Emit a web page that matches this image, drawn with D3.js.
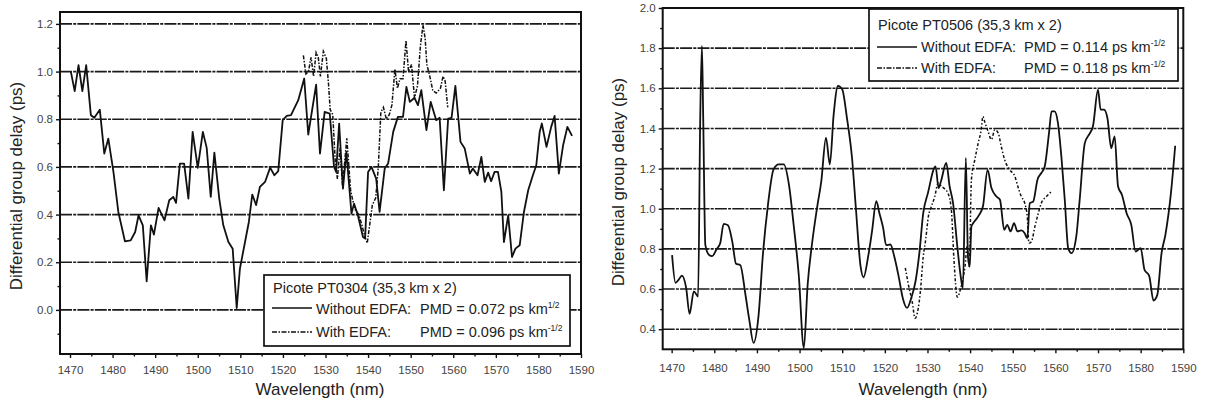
<!DOCTYPE html>
<html><head><meta charset="utf-8">
<script src="https://cdn.jsdelivr.net/npm/d3@7"></script>
<style>
body{margin:0;background:#fff}
svg{display:block}
text{font-family:"Liberation Sans",Arial,Helvetica,sans-serif}
</style>
</head><body>
<svg id="chart" width="1206" height="403"></svg>
<script>
// ---------- tick labels ----------
const xTickValues = [1470,1480,1490,1500,1510,1520,1530,1540,1550,1560,1570,1580,1590];
const xMinorTicks = [1475,1485,1495,1505,1515,1525,1535,1545,1555,1565,1575,1585];
const leftYTicks = [0.0,0.2,0.4,0.6,0.8,1.0,1.2];
const leftYMinor = [-0.1,0.1,0.3,0.5,0.7,0.9,1.1];
const rightYTicks = [0.4,0.6,0.8,1.0,1.2,1.4,1.6,1.8,2.0];
const rightYMinor = [0.5,0.7,0.9,1.1,1.3,1.5,1.7,1.9];

// ---------- left panel: Picote PT0304 ----------
const leftWithout = [
[1470.2,1.0],[1471.1,0.918],[1472.0,1.027],[1472.9,0.918],[1473.8,1.027],[1474.9,0.817],[1475.7,0.806],
[1477.0,0.84],[1478.05,0.656],[1479.0,0.719],[1480.2,0.579],[1481.35,0.411],[1482.9,0.288],[1484.25,0.292],
[1485.3,0.327],[1486.1,0.397],[1487.1,0.355],[1488.0,0.12],[1489.0,0.355],[1489.7,0.316],[1490.8,0.428],
[1492.2,0.376],[1493.3,0.46],[1494.25,0.474],[1494.9,0.449],[1495.8,0.614],[1496.8,0.614],[1497.8,0.467],
[1498.8,0.747],[1500.0,0.596],[1501.2,0.747],[1502.1,0.68],[1503.05,0.474],[1503.9,0.66],[1505.05,0.467],
[1506.0,0.355],[1507.2,0.285],[1508.2,0.257],[1509.15,0.008],[1509.9,0.173],[1511.1,0.285],[1512.0,0.369],
[1512.8,0.484],[1513.7,0.44],[1514.6,0.516],[1515.8,0.537],[1517.0,0.597],[1518.0,0.565],[1518.9,0.582],
[1519.95,0.796],[1520.9,0.814],[1521.9,0.817],[1523.6,0.88],[1525.0,0.971],[1525.95,0.736],[1527.8,0.945],
[1528.7,0.656],[1529.8,0.831],[1531.0,0.824],[1532.0,0.60],[1532.5,0.579],[1533.2,0.782],[1534.1,0.509],
[1534.9,0.663],[1536.1,0.404],[1536.7,0.446],[1537.6,0.397],[1538.8,0.306],[1539.3,0.30],[1540.0,0.579],
[1540.8,0.60],[1541.9,0.551],[1542.7,0.411],[1543.9,0.593],[1544.7,0.614],[1545.9,0.747],[1547.0,0.81],
[1548.2,0.81],[1549.0,0.936],[1549.8,0.873],[1550.9,0.89],[1551.7,0.859],[1552.5,0.922],[1553.7,0.754],
[1554.7,0.873],[1556.0,0.796],[1556.8,0.806],[1557.8,0.502],[1558.8,0.803],[1559.6,0.806],[1560.5,0.94],
[1561.7,0.705],[1562.7,0.677],[1563.9,0.572],[1564.6,0.593],[1565.7,0.565],[1566.6,0.642],[1567.4,0.537],
[1568.2,0.576],[1568.9,0.54],[1569.7,0.579],[1570.5,0.579],[1571.3,0.495],[1571.9,0.285],[1572.9,0.397],
[1573.8,0.222],[1574.6,0.257],[1575.6,0.271],[1576.6,0.411],[1577.6,0.502],[1578.7,0.565],[1579.5,0.607],
[1580.3,0.747],[1580.8,0.782],[1581.9,0.684],[1583.0,0.768],[1583.8,0.814],[1584.8,0.572],[1585.8,0.691],
[1586.8,0.768],[1587.9,0.73]
];
const leftWith = [
[1524.8,1.068],[1525.4,0.99],[1526.0,1.0],[1526.6,1.06],[1527.2,0.98],[1527.8,1.08],[1528.3,1.06],
[1528.8,0.98],[1529.5,1.085],[1530.2,1.055],[1530.7,0.95],[1531.1,0.84],[1531.7,0.82],[1532.3,0.62],
[1532.8,0.55],[1533.4,0.68],[1534.0,0.52],[1534.6,0.64],[1535.0,0.72],[1535.5,0.60],[1535.9,0.50],
[1536.4,0.46],[1537.0,0.42],[1537.8,0.40],[1538.5,0.36],[1539.2,0.31],[1539.8,0.28],[1540.4,0.36],
[1541.0,0.44],[1541.8,0.47],[1542.4,0.60],[1543.0,0.83],[1543.6,0.85],[1544.3,0.80],[1545.0,0.82],
[1545.6,0.86],[1546.3,1.01],[1546.9,0.93],[1547.5,0.97],[1548.2,0.97],[1548.9,1.13],[1549.5,1.0],
[1550.2,1.03],[1550.9,0.89],[1551.6,0.94],[1552.3,1.11],[1552.9,1.195],[1553.4,1.14],[1553.8,1.03],
[1554.5,0.98],[1555.2,0.92],[1556.0,0.91],[1557.0,0.93],[1557.6,0.98],[1558.1,0.96],[1558.7,0.85]
];

// ---------- right panel: Picote PT0506 ----------
const rightWithout = [
[1470.1,0.769],[1470.9,0.631],[1471.65,0.647],[1472.4,0.667],[1473.4,0.606],[1474.2,0.476],[1475.2,0.589],
[1476.2,0.563],[1476.7,1.45],[1477.1,1.811],[1477.4,1.454],[1477.9,0.82],[1478.7,0.772],[1479.5,0.764],
[1480.5,0.797],[1481.4,0.83],[1482.2,0.925],[1483.2,0.918],[1484.2,0.839],[1485.1,0.726],[1486.1,0.719],
[1487.3,0.573],[1488.2,0.448],[1489.2,0.332],[1490.4,0.473],[1491.4,0.772],[1492.6,1.022],[1493.9,1.196],
[1495.1,1.221],[1496.3,1.221],[1497.5,1.121],[1498.6,0.922],[1499.8,0.673],[1501.0,0.307],[1501.9,0.623],
[1502.9,0.822],[1504.1,1.005],[1505.1,1.138],[1506.2,1.354],[1507.1,1.221],[1508.0,1.47],[1509.0,1.612],
[1510.0,1.595],[1511.1,1.454],[1512.3,1.254],[1513.2,1.005],[1514.3,0.714],[1515.0,0.659],[1516.1,0.764],
[1517.0,0.889],[1518.0,1.038],[1518.7,0.98],[1519.6,0.905],[1520.3,0.819],[1521.3,0.822],[1522.2,0.764],
[1523.3,0.656],[1524.2,0.556],[1525.2,0.506],[1526.2,0.556],[1527.2,0.639],[1528.1,0.78],[1529.0,0.978],
[1530.1,1.078],[1531.9,1.211],[1532.6,1.103],[1533.2,1.14],[1534.4,1.228],[1535.2,1.111],[1536.0,1.028],
[1537.0,0.812],[1537.8,0.662],[1538.3,0.604],[1539.0,1.253],[1539.5,0.762],[1539.9,0.712],[1540.3,0.912],
[1540.7,0.928],[1541.9,0.962],[1543.0,1.011],[1544.1,1.194],[1545.0,1.103],[1546.2,1.061],[1547.0,1.045],
[1548.0,0.895],[1548.7,0.92],[1549.5,0.887],[1550.3,0.928],[1551.1,0.887],[1552.0,0.892],[1552.8,0.878],
[1553.4,0.853],[1554.0,1.028],[1554.8,1.036],[1555.8,1.145],[1556.7,1.178],[1557.5,1.211],[1558.5,1.377],
[1559.1,1.485],[1559.8,1.485],[1560.6,1.427],[1561.4,1.261],[1562.2,1.045],[1563.0,0.804],[1563.8,0.779],
[1564.9,0.862],[1565.7,1.045],[1566.9,1.327],[1568.1,1.377],[1568.8,1.41],[1570.0,1.593],[1570.6,1.494],
[1571.4,1.494],[1572.2,1.452],[1573.1,1.302],[1573.9,1.361],[1574.7,1.111],[1575.6,1.07],[1576.7,0.978],
[1577.8,0.92],[1578.8,0.787],[1580.0,0.804],[1580.9,0.696],[1582.0,0.666],[1583.0,0.543],[1583.9,0.571],
[1584.9,0.779],[1585.8,0.87],[1587.1,1.078],[1588.1,1.314]
];
const rightWith = [
[1524.8,0.706],[1525.6,0.614],[1526.4,0.539],[1527.1,0.455],[1527.8,0.50],[1528.3,0.58],[1529.0,0.76],
[1529.6,0.85],[1530.2,0.96],[1530.9,1.01],[1531.7,1.06],[1532.5,1.128],[1533.3,1.111],[1534.0,1.10],
[1534.8,1.078],[1535.6,0.995],[1536.2,0.75],[1537.0,0.56],[1537.7,0.596],[1538.3,0.65],[1538.8,0.712],
[1539.3,0.812],[1539.8,0.712],[1540.3,1.145],[1541.1,1.244],[1541.9,1.327],[1542.6,1.394],[1543.0,1.46],
[1543.4,1.435],[1544.2,1.386],[1545.0,1.344],[1545.8,1.394],[1546.6,1.377],[1547.3,1.311],[1548.1,1.244],
[1549.3,1.194],[1550.5,1.161],[1551.2,1.111],[1552.0,1.061],[1552.8,1.028],[1553.4,0.962],[1553.8,0.829],
[1554.4,0.837],[1555.2,0.912],[1555.9,0.97],[1556.7,1.028],[1557.9,1.061],[1559.1,1.086]
];

const leftLegend = {title:"Picote PT0304 (35,3 km x 2)", a:"Without EDFA:", aPmd:"PMD = 0.072 ps km", aExp:"1/2", b:"With EDFA:", bPmd:"PMD = 0.096 ps km", bExp:"-1/2"};
const rightLegend = {title:"Picote PT0506 (35,3 km x 2)", a:"Without EDFA:", aPmd:"PMD = 0.114 ps km", aExp:"-1/2", b:"With EDFA:", bPmd:"PMD = 0.118 ps km", bExp:"-1/2"};

const svg = d3.select("#chart");

function panel(o){
  const x = d3.scaleLinear().domain(o.xDomain).range([o.L, o.R]);
  const y = d3.scaleLinear().domain(o.yDomain).range([o.B, o.T]);
  const g = svg.append("g");

  // gridlines
  g.selectAll("line.grid").data(o.yTicks.filter(t => t < o.yDomain[1]-1e-6)).enter().append("line")
    .attr("x1", o.L).attr("x2", o.R).attr("y1", d=>y(d)).attr("y2", d=>y(d))
    .attr("stroke", "#1a1a1a").attr("stroke-width", 1.6).attr("stroke-dasharray", "12,1.2,3,1.2");

  // series
  const line = d3.line().x(d=>x(d[0])).y(d=>y(d[1])).curve(o.curve);
  g.append("path").datum(o.with).attr("d", line).attr("fill","none")
    .attr("stroke","#111").attr("stroke-width",1.5).attr("stroke-dasharray", o.dash);
  g.append("path").datum(o.without).attr("d", line).attr("fill","none")
    .attr("stroke","#111").attr("stroke-width",1.8).attr("stroke-linejoin","round");

  // legend
  const lg = o.legend, lb = o.lbox;
  g.append("rect").attr("x", lb.x).attr("y", lb.y).attr("width", lb.w).attr("height", lb.h)
    .attr("fill","#fff").attr("stroke","#111").attr("stroke-width",1.7);
  const fs = 14.5;
  const tx = g.append("g").attr("fill","#222").attr("font-size", fs);
  tx.append("text").attr("x", lb.x+9).attr("y", lb.y+lb.l1).text(lg.title);
  g.append("line").attr("x1", lb.x+8).attr("x2", lb.x+48).attr("y1", lb.y+lb.s1).attr("y2", lb.y+lb.s1)
    .attr("stroke","#111").attr("stroke-width",1.6);
  g.append("line").attr("x1", lb.x+8).attr("x2", lb.x+48).attr("y1", lb.y+lb.s2).attr("y2", lb.y+lb.s2)
    .attr("stroke","#111").attr("stroke-width",1.6).attr("stroke-dasharray","5,1.5,1.5,1.5");
  tx.append("text").attr("x", lb.x+52).attr("y", lb.y+lb.l2).text(lg.a);
  tx.append("text").attr("x", lb.x+52).attr("y", lb.y+lb.l3).text(lg.b);
  const t2 = tx.append("text").attr("x", lb.x+lb.pmdX).attr("y", lb.y+lb.l2);
  t2.append("tspan").text(lg.aPmd);
  t2.append("tspan").attr("dy",-6).attr("font-size",8.5).text(lg.aExp);
  const t3 = tx.append("text").attr("x", lb.x+lb.pmdX).attr("y", lb.y+lb.l3);
  t3.append("tspan").text(lg.bPmd);
  t3.append("tspan").attr("dy",-6).attr("font-size",8.5).text(lg.bExp);

  // axes
  g.append("g").attr("transform", `translate(0,${o.B})`)
    .call(d3.axisBottom(x).tickValues(xTickValues).tickSize(4).tickPadding(o.xPad).tickFormat(d3.format("d")));
  g.append("g").attr("transform", `translate(0,${o.B})`)
    .call(d3.axisBottom(x).tickValues(xMinorTicks).tickSize(2.5).tickFormat(""));
  g.append("g").attr("transform", `translate(${o.L},0)`)
    .call(d3.axisLeft(y).tickValues(o.yTicks).tickSize(4).tickPadding(3).tickFormat(d3.format(".1f")));
  g.append("g").attr("transform", `translate(${o.L},0)`)
    .call(d3.axisLeft(y).tickValues(o.yMinor).tickSize(2.5).tickFormat(""));
  g.selectAll(".domain").remove();
  g.selectAll(".tick line").attr("stroke","#111").attr("stroke-width",1.4);
  g.selectAll(".tick text").attr("fill","#444").attr("font-size",11.5)
    .attr("font-family",'"Liberation Sans",Arial,sans-serif');

  // frame
  g.append("rect").attr("x", o.L).attr("y", o.T).attr("width", o.R-o.L).attr("height", o.B-o.T)
    .attr("fill","none").attr("stroke","#111").attr("stroke-width",2);

  // titles
  g.append("text").attr("x", o.xTitleX).attr("y", 395).attr("text-anchor","middle")
    .attr("font-size",17).attr("fill","#222").text("Wavelength (nm)");
  g.append("text").attr("transform", `translate(${o.yTitleX},${o.yTitleY}) rotate(-90)`)
    .attr("text-anchor","middle").attr("font-size",17).attr("fill","#222").text("Differential group delay (ps)");
}

panel({
  L:60, R:581, T:12, B:354, xDomain:[1467.65,1590], yDomain:[-0.185,1.25],
  yTicks:leftYTicks, yMinor:leftYMinor, without:leftWithout, with:leftWith,
  curve:d3.curveLinear, dash:"4,1.5,1.5,1.5", xPad:8,
  legend:leftLegend, lbox:{x:264, y:275, w:306, h:71, l1:18, l2:39, l3:62, s1:33, s2:57, pmdX:156},
  xTitleX:320, yTitleX:22, yTitleY:186
});
panel({
  L:662.7, R:1183.3, T:8, B:349.3, xDomain:[1467.9,1590], yDomain:[0.30,2.0],
  yTicks:rightYTicks, yMinor:rightYMinor, without:rightWithout, with:rightWith,
  curve:d3.curveMonotoneX, dash:"3,2,1.5,2", xPad:11,
  legend:rightLegend, lbox:{x:869, y:9, w:309, h:72, l1:21, l2:43, l3:64, s1:38, s2:59, pmdX:155},
  xTitleX:923, yTitleX:624, yTitleY:182
});
</script>
</body></html>
